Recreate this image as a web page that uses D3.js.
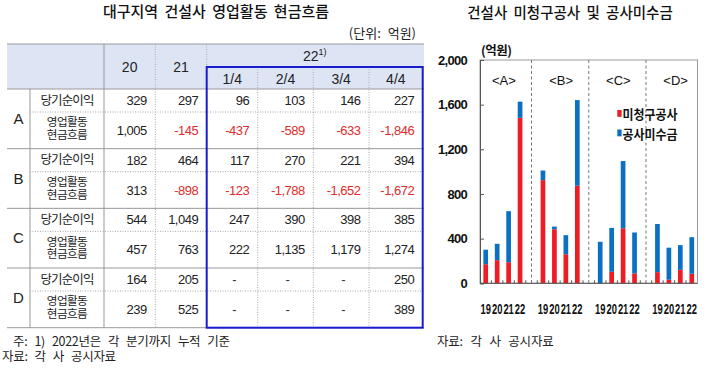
<!DOCTYPE html>
<html><head><meta charset="utf-8">
<script src="https://cdn.jsdelivr.net/npm/d3@7"></script>
<style>
html,body{margin:0;padding:0;background:#fff;}
svg{display:block;font-family:"Liberation Sans","Noto Sans CJK KR",sans-serif;}
.kr{font-family:"Noto Sans CJK KR","Liberation Sans",sans-serif;}
</style></head>
<body>
<svg id="c" width="720" height="375"></svg>
<script>
// ---------- Table data ----------
const tableGroups = ["A", "B", "C", "D"];
const rowLabels = ["당기순이익", "영업활동|현금흐름"];
const yearHeads = ["20", "21"];
const quarterHeads = ["1/4", "2/4", "3/4", "4/4"];
const netIncomeA = [329, 297, 96, 103, 146, 227];
const cashFlowA  = [1005, -145, -437, -589, -633, -1846];
const netIncomeB = [182, 464, 117, 270, 221, 394];
const cashFlowB  = [313, -898, -123, -1788, -1652, -1672];
const netIncomeC = [544, 1049, 247, 390, 398, 385];
const cashFlowC  = [457, 763, 222, 1135, 1179, 1274];
const netIncomeD = [164, 205, null, null, null, 250];
const cashFlowD  = [239, 525, null, null, null, 389];

// ---------- Chart data ----------
const chartGroups = ["A", "B", "C", "D"];
const chartYears = ["19", "20", "21", "22"];
const unbilledA = [171, 207, 189, 1482];
const receivA   = [130, 147, 457, 145];
const unbilledB = [924, 484, 260, 874];
const receivB   = [86, 24, 171, 767];
const unbilledC = [0, 103, 493, 89];
const receivC   = [372, 393, 602, 366];
const unbilledD = [100, 32, 121, 86];
const receivD   = [431, 287, 221, 327];
const yTicks = [0, 400, 800, 1200, 1600, 2000];
const seriesNames = ["미청구공사", "공사미수금"];

const svg = d3.select("#c");
const fmt = d3.formatLocale({decimal:".", thousands:",", grouping:[3], currency:["",""], minus:"-"}).format(",");
const RED = "#ee1c25", BLUE = "#0b70c2", NEG = "#e02c2c";

// ================= TABLE =================
svg.append("text").attr("class","kr").attr("x",216).attr("y",17).attr("text-anchor","middle")
  .attr("font-size",15).attr("font-weight",500).attr("word-spacing",3).attr("fill","#111").text("대구지역 건설사 영업활동 현금흐름");
svg.append("text").attr("class","kr").attr("x",416).attr("y",38).attr("text-anchor","end")
  .attr("font-size",13).attr("word-spacing",4).attr("fill","#222").text("(단위: 억원)");

const tL = 7, tR = 424, tTop = 44, hMid = 67, hBot = 89, tBot = 327.7;
const colEdges = [104, 155.3, 206.7, 257.7, 313.3, 369, 422.7];
const gy = d3.scaleBand().domain(tableGroups).range([hBot, tBot]);
const subH = 23;
const grid = "#a8a8a8";

svg.append("rect").attr("x",tL).attr("y",tTop).attr("width",tR-tL).attr("height",hBot-tTop).attr("fill","#dde5f5");

function hline(x1,x2,y,dotted,col){
  svg.append("line").attr("x1",x1).attr("x2",x2).attr("y1",y).attr("y2",y)
    .attr("stroke",col||grid).attr("stroke-width",1).attr("stroke-dasharray",dotted?"1,1.5":null);
}
function vline(x,y1,y2,dotted,col){
  svg.append("line").attr("x1",x).attr("x2",x).attr("y1",y1).attr("y2",y2)
    .attr("stroke",col||grid).attr("stroke-width",1).attr("stroke-dasharray",dotted?"1,1.5":null);
}
hline(tL,tR,tTop,false,"#999");
hline(tL,tR,hBot,false,"#999");
vline(30,hBot,tBot,false,"#999");
vline(colEdges[0],tTop,tBot,false,"#999");
vline(colEdges[1],tTop,tBot,true);
vline(colEdges[2],tTop,hMid,true);
[3,4,5].forEach(i=>vline(colEdges[i],hMid,tBot,true));
tableGroups.forEach(g=>{
  const y0 = gy(g);
  hline(30,tR,y0+subH,true);
  hline(tL,tR,y0+gy.bandwidth(),false,"#999");
});

// header text
yearHeads.forEach((h,i)=>{
  svg.append("text").attr("x",(colEdges[i]+colEdges[i+1])/2).attr("y",(tTop+hBot)/2+5)
    .attr("text-anchor","middle").attr("font-size",14).attr("fill","#222").text(h);
});
const h22 = svg.append("text").attr("x",(colEdges[2]+colEdges[6])/2).attr("y",61)
  .attr("text-anchor","middle").attr("font-size",14).attr("fill","#222");
h22.append("tspan").text("22");
h22.append("tspan").attr("font-size",9).attr("dy",-6).text("1)");
quarterHeads.forEach((h,i)=>{
  svg.append("text").attr("x",(colEdges[i+2]+colEdges[i+3])/2).attr("y",84)
    .attr("text-anchor","middle").attr("font-size",14).attr("fill","#222").text(h);
});

const tableRows = {A:[netIncomeA,cashFlowA],B:[netIncomeB,cashFlowB],C:[netIncomeC,cashFlowC],D:[netIncomeD,cashFlowD]};
tableGroups.forEach(g=>{
  const y0 = gy(g), bh = gy.bandwidth();
  svg.append("text").attr("x",18.5).attr("y",y0+bh/2+5).attr("text-anchor","middle")
    .attr("font-size",15).attr("fill","#222").text(g);
  rowLabels.forEach((lab,ri)=>{
    const ry0 = ri===0 ? y0 : y0+subH;
    const ry1 = ri===0 ? y0+subH : y0+bh;
    const cy = (ry0+ry1)/2;
    const parts = lab.split("|");
    const multi = parts.length>1;
    const lt = svg.append("text").attr("class","kr").attr("text-anchor","middle")
      .attr("font-size",multi?11.6:12.5).attr("letter-spacing",multi?-0.6:-0.9).attr("fill","#222");
    parts.forEach((p,pi)=>{
      lt.append("tspan").attr("x",67)
        .attr("y",cy+4.2+(pi-(parts.length-1)/2)*12.6 - (multi?2:0)).text(p);
    });
    tableRows[g][ri].forEach((v,ci)=>{
      const xr = colEdges[ci+1]-8.5;
      const xc = (colEdges[ci]+colEdges[ci+1])/2;
      const t = svg.append("text").attr("y",cy+4.5).attr("font-size",13).attr("letter-spacing",-0.5);
      if(v===null){ t.attr("x",xc+2).attr("text-anchor","middle").attr("fill","#333").text("-"); }
      else { t.attr("x",xr).attr("text-anchor","end").attr("fill",v<0?NEG:"#222").text(fmt(v)); }
    });
  });
});
// blue highlight box
svg.append("rect").attr("x",colEdges[2]).attr("y",hMid).attr("width",colEdges[6]-colEdges[2]).attr("height",tBot-hMid)
  .attr("fill","none").attr("stroke","#1a1ad0").attr("stroke-width",2);

svg.append("text").attr("class","kr").attr("x",13).attr("y",346).attr("font-size",12.5).attr("letter-spacing",-0.3)
  .attr("word-spacing",4.5).attr("fill","#222").text("주: 1) 2022년은 각 분기까지 누적 기준");
svg.append("text").attr("class","kr").attr("x",2).attr("y",361).attr("font-size",12.5).attr("letter-spacing",-0.3)
  .attr("word-spacing",4.5).attr("fill","#222").text("자료: 각 사 공시자료");

// ================= CHART =================
svg.append("text").attr("class","kr").attr("x",570).attr("y",18).attr("text-anchor","middle")
  .attr("font-size",14.5).attr("font-weight",500).attr("word-spacing",3).attr("fill","#111").text("건설사 미청구공사 및 공사미수금");

const unb = {A:unbilledA,B:unbilledB,C:unbilledC,D:unbilledD};
const rec = {A:receivA,B:receivB,C:receivC,D:receivD};
const cats = [];
chartGroups.forEach((g,gi)=>{
  chartYears.forEach(yr=>cats.push(g+"-"+yr));
  if(gi<chartGroups.length-1) cats.push("gap"+gi);
});
const pL = 480, pR = 697.5, pT = 60, pB = 283.3;
const x = d3.scaleBand().domain(cats).range([pL,pR]).padding(0);
const y = d3.scaleLinear().domain([0,2000]).range([pB,pT]);
const bw = x.bandwidth()*0.41;

// box
svg.append("rect").attr("x",pL).attr("y",pT).attr("width",pR-pL).attr("height",pB-pT)
  .attr("fill","none").attr("stroke","#999").attr("stroke-width",1);
// separators
cats.filter(c=>c.startsWith("gap")).forEach(c=>{
  svg.append("line").attr("x1",x(c)+x.bandwidth()/2).attr("x2",x(c)+x.bandwidth()/2)
    .attr("y1",pT).attr("y2",pB).attr("stroke","#777").attr("stroke-dasharray","3,2.5");
});

const data = [];
chartGroups.forEach(g=>chartYears.forEach((yr,i)=>{
  data.push({c:g+"-"+yr, yr:yr, red:unb[g][i], blue:rec[g][i]});
}));
const stack = d3.stack().keys(["red","blue"])(data);
svg.append("g").selectAll("g").data(stack).join("g")
  .attr("fill",(d,i)=>i===0?RED:BLUE)
  .selectAll("rect").data(d=>d).join("rect")
  .attr("x",d=>x(d.data.c)+x.bandwidth()/2-bw/2).attr("width",bw)
  .attr("y",d=>y(d[1])).attr("height",d=>y(d[0])-y(d[1]));

// axes
const yAxis = svg.append("g").attr("transform",`translate(${pL},0)`)
  .call(d3.axisLeft(y).tickValues(yTicks).tickSize(-4).tickPadding(13).tickFormat(d3.format(",")));
yAxis.select(".domain").attr("stroke","#555");
yAxis.selectAll(".tick line").attr("stroke","#555");
yAxis.selectAll("text").attr("font-size",13).attr("font-weight","bold").attr("letter-spacing",-0.7).attr("fill","#111");

svg.append("line").attr("x1",pL).attr("x2",pR).attr("y1",pB).attr("y2",pB).attr("stroke","#555");
x.domain().forEach((c,i)=>{
  const xx = x(c);
  if(i>0) svg.append("line").attr("x1",xx).attr("x2",xx).attr("y1",pB).attr("y2",pB-3).attr("stroke","#555");
});
data.forEach(d=>{
  svg.append("text").attr("transform",`translate(${x(d.c)+x.bandwidth()/2},314) scale(0.67,1)`)
    .attr("text-anchor","middle").attr("font-size",14).attr("font-weight","bold")
    .attr("fill","#111").text(d.yr);
});

// group labels
chartGroups.forEach(g=>{
  const c0 = x(g+"-"+chartYears[0]), c1 = x(g+"-"+chartYears[chartYears.length-1])+x.bandwidth();
  svg.append("text").attr("x",(c0+c1)/2+1).attr("y",85).attr("text-anchor","middle")
    .attr("font-size",13).attr("fill","#111").text("<"+g+">");
});
// unit
svg.append("text").attr("class","kr").attr("x",481).attr("y",55).attr("font-size",12.5).attr("font-weight","bold")
  .attr("letter-spacing",-0.5).attr("fill","#111").text("(억원)");

// legend
seriesNames.forEach((s,i)=>{
  const ly = 110 + i*19.5;
  svg.append("rect").attr("x",617.3).attr("y",ly).attr("width",4.3).attr("height",6.8).attr("fill",i===0?RED:BLUE);
  svg.append("text").attr("class","kr").attr("x",622.5).attr("y",ly+9).attr("font-size",13).attr("font-weight","bold")
    .attr("textLength",55).attr("lengthAdjust","spacingAndGlyphs").attr("fill","#111").text(s);
});

svg.append("text").attr("class","kr").attr("x",437).attr("y",346).attr("font-size",12.5).attr("letter-spacing",-0.2)
  .attr("word-spacing",5).attr("fill","#222").text("자료: 각 사 공시자료");
</script>
</body></html>
